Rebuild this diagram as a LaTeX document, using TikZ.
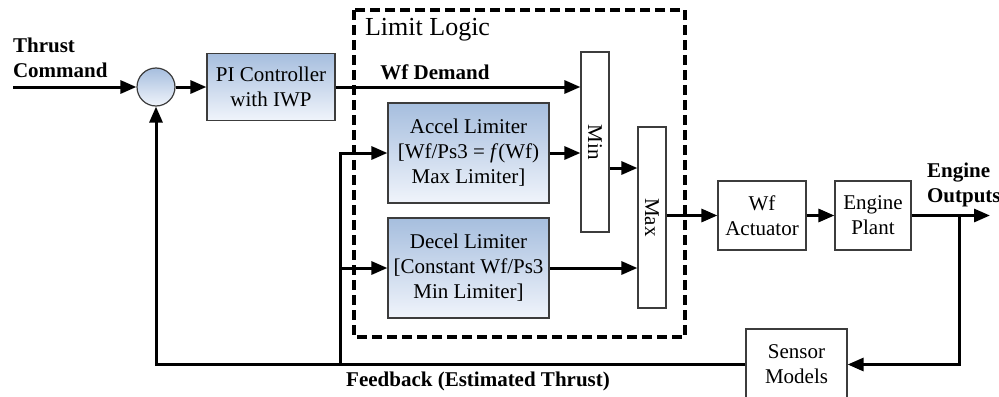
\documentclass[tikz,border=0pt]{standalone}
\usepackage{fontspec}
\setmainfont{Liberation Serif}
\usetikzlibrary{arrows.meta, positioning}

\definecolor{shadetop}{RGB}{166,190,222}
\definecolor{shadebot}{RGB}{240,244,251}
\definecolor{edgegray}{RGB}{60,60,60}

\tikzset{
  plainbox/.style={draw=edgegray, line width=0.6pt, align=center, inner sep=1pt,
                   font=\fontsize{10.5}{12.5}\selectfont},
  shadebox/.style={plainbox, top color=shadetop, bottom color=shadebot},
  arr/.style={line width=1.5pt, -{Triangle[length=8pt,width=6.5pt]}},
  limitbox/.style={line width=1.7pt, dash pattern=on 5pt off 2.5pt},
  boldlabel/.style={font=\bfseries\fontsize{10.5}{12.5}\selectfont}
}

\begin{document}
\begin{tikzpicture}[x=0.5pt, y=-0.5pt]
    \useasboundingbox (0,0) rectangle (999,396);

    % limit logic frame
    \draw[limitbox] (354,10) rectangle (685,337);
    \node[anchor=west, font=\fontsize{13}{15}\selectfont] (limitlabel) at (358,30) {Limit Logic};

    % blocks
    \node[shadebox, circle, minimum size=19pt, inner sep=0pt] (sum) at (156,87) {};
    \node[shadebox, minimum width=64pt, minimum height=33.5pt] (pi) at (271,87) {PI Controller\\with IWP};
    \node[shadebox, minimum width=80.5pt, minimum height=50pt] (accel) at (468.5,153)
        {Accel Limiter\\{}[Wf/Ps3 = \textit{f}(Wf)\\Max Limiter]};
    \node[shadebox, minimum width=80.5pt, minimum height=50pt] (decel) at (468.5,268)
        {Decel Limiter\\{}[Constant Wf/Ps3\\Min Limiter]};
    \node[plainbox, minimum width=14pt, minimum height=90pt] (min) at (595,142) {};
    \node[rotate=-90, font=\fontsize{10.5}{12.5}\selectfont] (mintext) at (min) {Min};
    \node[plainbox, minimum width=14pt, minimum height=90.5pt] (max) at (652,217.5) {};
    \node[rotate=-90, font=\fontsize{10.5}{12.5}\selectfont] (maxtext) at (max) {Max};
    \node[plainbox, minimum width=44pt, minimum height=34.5pt] (act) at (762,215.5) {Wf\\Actuator};
    \node[plainbox, minimum width=38pt, minimum height=34.5pt] (plant) at (873,215.5) {Engine\\Plant};
    \node[plainbox, minimum width=50.5pt, minimum height=35.5pt] (sensor) at (796.5,364.5) {Sensor\\Models};

    % labels
    \node[boldlabel, anchor=west, align=left] (cmd) at (6,58) {Thrust\\Command};
    \node[boldlabel, anchor=west, align=left] (outs) at (920,185) {Engine\\Outputs};
    \node[boldlabel] (demand) at (435,72) {Wf Demand};
    \node[boldlabel] (fbtext) at (478,381) {Feedback (Estimated Thrust)};

    % free ends
    \coordinate (cmdin) at (13,87);
    \coordinate (outend) at (990,215.5);
    \coordinate (tap) at (959,215.5);
    \coordinate (fb) at (340,364.5);

    % forward path
    \draw[arr] (cmdin) -- (sum.west);
    \draw[arr] (sum.east) -- (pi.west);
    \draw[arr] (pi.east) -- (pi.east -| min.west);
    \draw[arr] (accel.east) -- (accel.east -| min.west);
    \draw[arr] ([yshift=-13pt]min.east) -- ([yshift=-13pt]min.east -| max.west);
    \draw[arr] (decel.east) -- (decel.east -| max.west);
    \draw[arr] (max.east |- act.west) -- (act.west);
    \draw[arr] (act.east) -- (plant.west);
    \draw[arr] (plant.east) -- (outend);

    % feedback path
    \draw[arr] (tap) |- (sensor.east);
    \draw[arr] (sensor.west) -| (sum.south);
    \draw[arr] (fb) |- (accel.west);
    \draw[arr] (fb |- decel.west) -- (decel.west);
\end{tikzpicture}
\end{document}
